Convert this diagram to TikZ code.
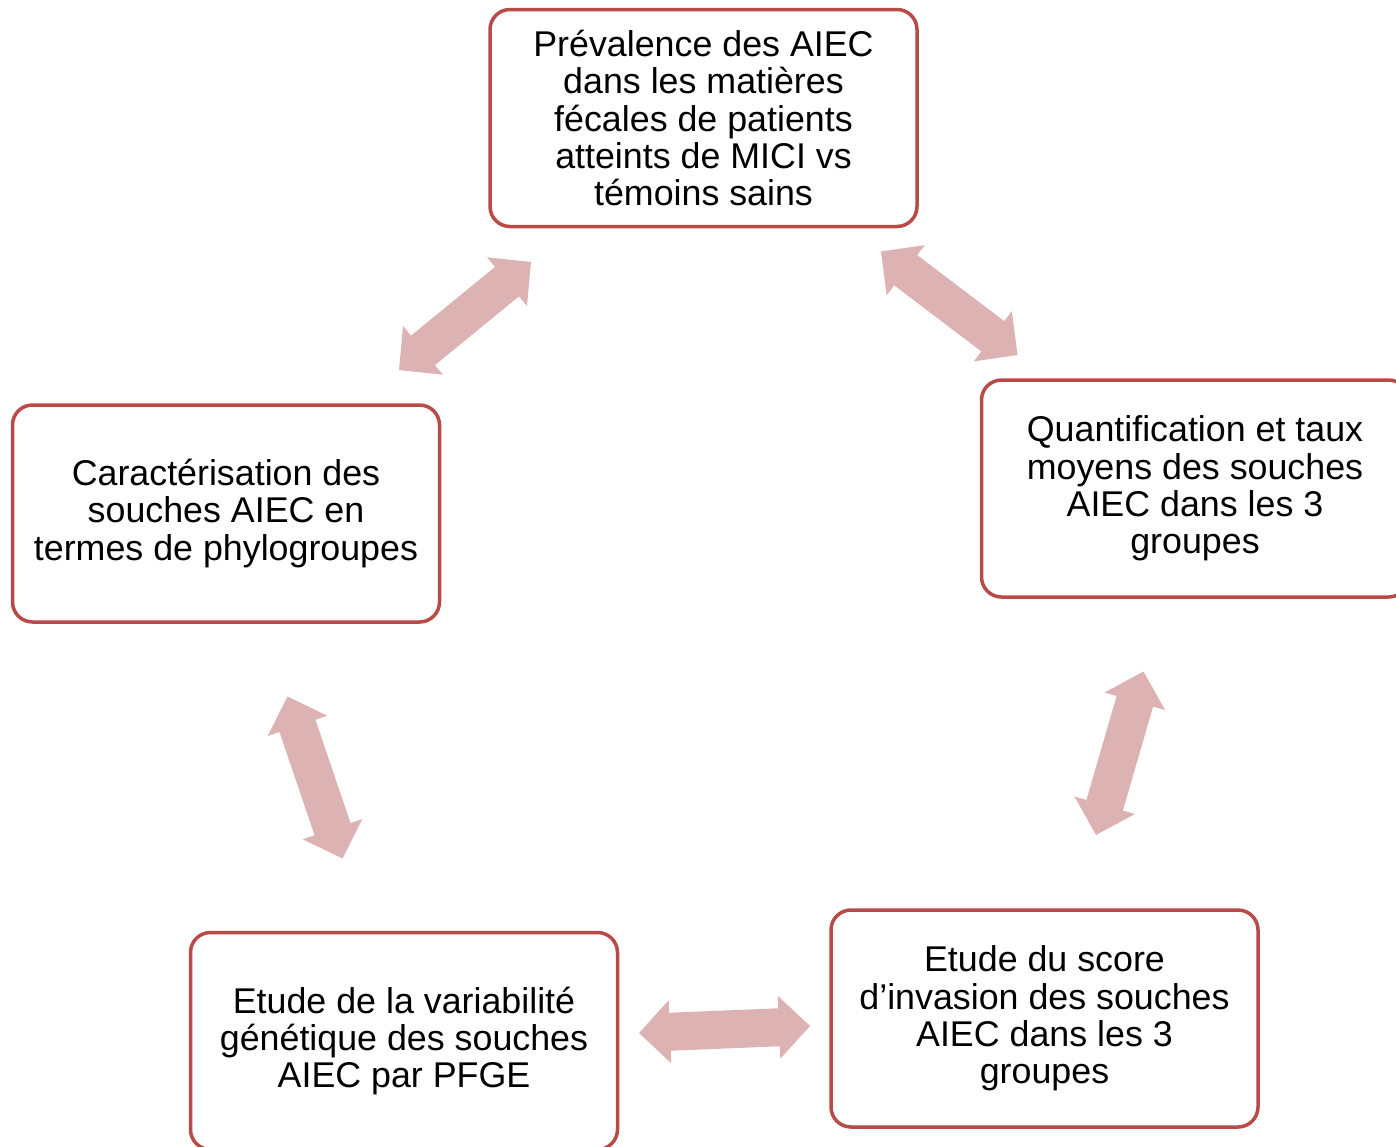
\documentclass[tikz,border=0pt]{standalone}
\usepackage{fontspec}
\setmainfont{Liberation Sans}
\usetikzlibrary{calc}

\definecolor{boxred}{RGB}{184,74,72}
\definecolor{arrowpink}{RGB}{221,178,178}

% block arrow with a head at both ends: \dblarrow{from}{to}
\newcommand{\dblarrow}[2]{%
  \fill[arrowpink] (#1)
    -- ($(#1)!15.5pt!(#2)!15.75pt!90:(#2)$)
    -- ($(#1)!15.5pt!(#2)!9.5pt!90:(#2)$)
    -- ($(#2)!15.5pt!(#1)!9.5pt!270:(#1)$)
    -- ($(#2)!15.5pt!(#1)!15.75pt!270:(#1)$)
    -- (#2)
    -- ($(#2)!15.5pt!(#1)!15.75pt!90:(#1)$)
    -- ($(#2)!15.5pt!(#1)!9.5pt!90:(#1)$)
    -- ($(#1)!15.5pt!(#2)!9.5pt!270:(#2)$)
    -- ($(#1)!15.5pt!(#2)!15.75pt!270:(#2)$)
    -- cycle;}

\begin{document}
\begin{tikzpicture}[
  x=0.5pt, y=-0.5pt,
  box/.style={draw=boxred, line width=1.75pt, rounded corners=10pt,
              fill=white, minimum width=213.5pt, minimum height=108.5pt,
              inner sep=4pt, align=center,
              font=\fontsize{17.9}{18.65}\selectfont},
]
\useasboundingbox (0,0) rectangle (1396,1146);
\clip (0,0) rectangle (1396,1146);

\node[box] (prev)  at (703.5,118)   {Prévalence des AIEC\\dans les matières\\fécales de patients\\atteints de MICI vs\\témoins sains};
\node[box] (quant) at (1195,488.5)  {Quantification et taux\\moyens des souches\\AIEC dans les 3\\groupes};
\node[box] (invas) at (1044.5,1018.5) {Etude du score\\d’invasion des souches\\AIEC dans les 3\\groupes};
\node[box] (pfge)  at (404,1041)    {Etude de la variabilité\\génétique des souches\\AIEC par PFGE};
\node[box] (phylo) at (226,513.5)   {Caractérisation des\\souches AIEC en\\termes de phylogroupes};

%% arrow ends float between the boxes
\coordinate (prev-w)  at (531,262);
\coordinate (phylo-n) at (399,370);
\coordinate (prev-e)  at (881,251.5);
\coordinate (quant-n) at (1017.5,355);
\coordinate (quant-s) at (1143.5,671.5);
\coordinate (invas-n) at (1096,835);
\coordinate (invas-w) at (810,1026);
\coordinate (pfge-e)  at (639,1033);
\coordinate (pfge-n)  at (342.5,858.5);
\coordinate (phylo-s) at (287.5,696.5);

\dblarrow{phylo-n}{prev-w}
\dblarrow{prev-e}{quant-n}
\dblarrow{quant-s}{invas-n}
\dblarrow{invas-w}{pfge-e}
\dblarrow{pfge-n}{phylo-s}
\end{tikzpicture}
\end{document}
